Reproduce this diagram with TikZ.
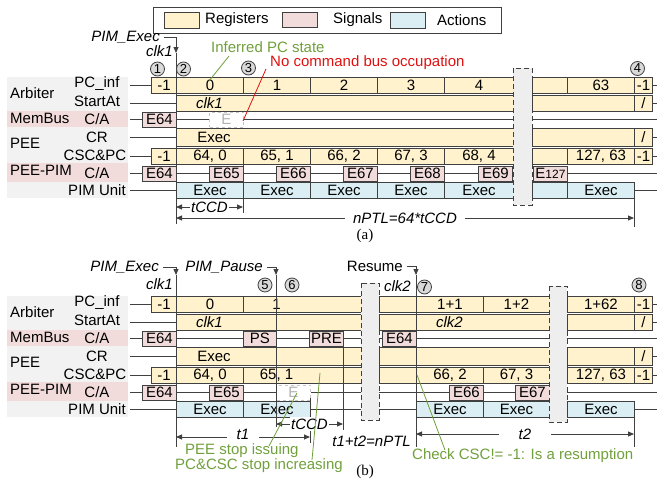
\documentclass[tikz,border=0pt]{standalone}
\usepackage{fontspec}
\setmainfont{Liberation Sans}
\newfontfamily\capserif{Liberation Serif}
\usetikzlibrary{arrows.meta}

\definecolor{regfill}{HTML}{FFF2CC}
\definecolor{sigfill}{HTML}{F2DCDB}
\definecolor{actfill}{HTML}{DAEEF3}
\definecolor{lblgray}{HTML}{F2F2F2}
\definecolor{lblpink}{HTML}{F2DCDB}
\definecolor{edge}{HTML}{404040}
\definecolor{notegreen}{HTML}{70A03C}
\definecolor{notered}{HTML}{E01010}
\definecolor{brkgray}{HTML}{EEEEEE}

% one timing cell: style, name, x from, x to, y centre, text
\newcommand\tcell[6]{\node[#1, minimum width={#4-#3}] (#2) at (#3,#5) {#6};}

\tikzset{
  txt/.style={font=\fontsize{15}{17}\selectfont, inner sep=0pt},
  reg/.style={txt, draw=edge, line width=0.9pt, fill=regfill, minimum height=16, anchor=west},
  sig/.style={txt, draw=edge, line width=0.9pt, fill=sigfill, minimum height=15, anchor=west},
  act/.style={txt, draw=edge, line width=0.9pt, fill=actfill, minimum height=16, anchor=west},
  ghost/.style={txt, draw=gray!45, dashed, line width=1pt, fill=white, text=gray!60, minimum height=15, anchor=west},
  brk/.style={draw=edge, line width=0.9pt, dash pattern=on 5pt off 3pt, fill=brkgray},
  numc/.style={circle, draw=edge, line width=0.8pt, fill=gray!30, minimum size=14, inner sep=0pt, font=\fontsize{13}{14}\selectfont},
  rowline/.style={draw=edge, line width=0.9pt},
  grp/.style={txt, anchor=west},
  sub/.style={txt},
  note/.style={txt, text=notegreen},
  dim/.style={txt, fill=white, inner sep=1.5pt, font=\fontsize{15}{17}\selectfont\itshape},
}

\begin{document}
\begin{tikzpicture}[x=1pt,y=-1pt,>={Triangle[length=6pt,width=5pt]}]
\useasboundingbox (0,0) rectangle (657,485);

% legend
\node[draw=edge, line width=0.9pt, fill=white, minimum width=348, minimum height=26, anchor=north west] (legend) at (153,7) {};
\tcell{reg}{lgreg}{164}{199}{20}{}
\node[txt, anchor=west] (lgregt) at (205,20) {Registers};
\tcell{sig}{lgsig}{282}{317}{20}{}
\node[txt, anchor=west] (lgsigt) at (333,20) {Signals};
\tcell{act}{lgact}{390}{425}{20}{}
\node[txt, anchor=west] (lgactt) at (437,20) {Actions};

% ================= (a) =================
\fill[lblgray] (7,77) rectangle (128,111);
\fill[lblpink] (7,111) rectangle (128,127);
\fill[lblgray] (7,127) rectangle (128,163);
\fill[lblpink] (7,163) rectangle (128,182);
\fill[lblgray] (7,182) rectangle (128,198);
\node[grp] (aarb) at (10,93) {Arbiter};
\node[grp] (amem) at (10,118) {MemBus};
\node[grp] (apee) at (10,143) {PEE};
\node[grp] (app) at (10,170) {PEE-PIM};
\node[sub] (apcl) at (97,84) {PC\_inf};
\node[sub] (asal) at (97,101) {StartAt};
\node[sub] (ambl) at (97,119) {C/A};
\node[sub] (acrl) at (97,137) {CR};
\node[sub] (acsl) at (95,155) {CSC\&PC};
\node[sub] (appl) at (97,173) {C/A};
\node[sub] (apul) at (97,190) {PIM Unit};

\foreach \y in {85,103,119.5,137,156,173.5,190.5}
  \draw[rowline] (130,\y) -- (657,\y);

% PC_inf
\tcell{reg}{apc0}{151}{176}{85}{-1}
\tcell{reg}{apc1}{176}{243}{85}{0}
\tcell{reg}{apc2}{243}{310}{85}{1}
\tcell{reg}{apc3}{310}{377}{85}{2}
\tcell{reg}{apc4}{377}{444}{85}{3}
\tcell{reg}{apc5}{444}{513}{85}{4}
\tcell{reg}{apc6}{532}{567}{85}{}
\tcell{reg}{apc7}{567}{634}{85}{63}
\tcell{reg}{apc8}{634}{652}{85}{-1}
% StartAt
\tcell{reg}{asa1}{176}{513}{103}{}
\tcell{reg}{asa2}{532}{634}{103}{}
\tcell{reg}{asa3}{634}{652}{103}{/}
\node[txt] (asat) at (209.5,103) {\textit{clk1}};
% MemBus C/A
\tcell{sig}{amb0}{142}{176}{119.5}{E64}
\tcell{ghost}{amb1}{209}{243}{119.5}{E}
% CR
\tcell{reg,minimum height=18}{acr1}{176}{513}{137}{}
\tcell{reg,minimum height=18}{acr2}{532}{634}{137}{}
\tcell{reg,minimum height=18}{acr3}{634}{652}{137}{/}
\node[txt] (acrt) at (214,137) {Exec};
% CSC&PC
\tcell{reg}{acs0}{151}{176}{156}{-1}
\tcell{reg}{acs1}{176}{243}{156}{64, 0}
\tcell{reg}{acs2}{243}{310}{156}{65, 1}
\tcell{reg}{acs3}{310}{377}{156}{66, 2}
\tcell{reg}{acs4}{377}{444}{156}{67, 3}
\tcell{reg}{acs5}{444}{513}{156}{68, 4}
\tcell{reg}{acs6}{532}{567}{156}{}
\tcell{reg}{acs7}{567}{634}{156}{127, 63}
\tcell{reg}{acs8}{634}{652}{156}{-1}
% PEE-PIM C/A
\tcell{sig}{app0}{142}{176}{173.5}{E64}
\tcell{sig}{app1}{209}{243}{173.5}{E65}
\tcell{sig}{app2}{276}{310}{173.5}{E66}
\tcell{sig}{app3}{343}{377}{173.5}{E67}
\tcell{sig}{app4}{410}{444}{173.5}{E68}
\tcell{sig}{app5}{478}{512}{173.5}{E69}
\tcell{sig}{app6}{533}{567}{173.5}{E{\fontsize{12}{13}\selectfont 127}}
% PIM Unit
\tcell{act}{apu1}{176}{243}{190.5}{Exec}
\tcell{act}{apu2}{243}{310}{190.5}{Exec}
\tcell{act}{apu3}{310}{377}{190.5}{Exec}
\tcell{act}{apu4}{377}{444}{190.5}{Exec}
\tcell{act}{apu5}{444}{513}{190.5}{Exec}
\tcell{act}{apu6}{532}{567}{190.5}{}
\tcell{act}{apu7}{567}{634}{190.5}{Exec}

\draw[brk] (513,68) rectangle (532,205);

% clock and markers
\node[txt, anchor=east] (aexec) at (160,37) {\textit{PIM\_Exec}};
\node[txt, anchor=east] (aclkt) at (173,51) {\textit{clk1}};
\coordinate (aclk) at (176,53);
\coordinate (aclkb) at (176,224);
\draw[rowline, ->, shorten <=4pt] (aexec.east) -| (aclk);
\draw[rowline] (aclk) -- (aclkb);
\coordinate (atca) at (243,164);
\coordinate (atcb) at (243,213);
\draw[rowline] (atca) -- (atcb);
\coordinate (aenda) at (634,198);
\coordinate (aendb) at (634,227);
\draw[rowline] (aenda) -- (aendb);
\coordinate (atc0) at (176,207);
\coordinate (atc1) at (243,207);
\draw[rowline, <->] (atc0) -- node[dim] (atcl) {tCCD} (atc1);
\coordinate (anp0) at (176,218);
\coordinate (anp1) at (634,218);
\draw[rowline, <->] (anp0) -- node[dim, inner xsep=8pt] (anpl) {nPTL=64*tCCD} (anp1);

\node[numc] (n1) at (157.5,69) {1};
\node[numc] (n2) at (183.5,69) {2};
\node[numc] (n3) at (248.5,68) {3};
\node[numc] (n4) at (637.5,68.5) {4};

\node[note, anchor=west] (ainf) at (211,47) {Inferred PC state};
\coordinate (ainf0) at (229,56);
\coordinate (ainf1) at (209,81);
\draw[notegreen, line width=0.8pt] (ainf0) -- (ainf1);
\node[txt, text=notered, anchor=west] (anob) at (270,63) {No command bus occupation};
\coordinate (anob0) at (266,69);
\coordinate (anob1) at (243,121);
\draw[notered, line width=0.8pt] (anob0) -- (anob1);

\node[txt, font=\capserif\fontsize{15}{17}\selectfont] (capa) at (365,236) {(a)};

% ================= (b) =================
\fill[lblgray] (7,296) rectangle (128,330);
\fill[lblpink] (7,330) rectangle (128,346);
\fill[lblgray] (7,346) rectangle (128,382);
\fill[lblpink] (7,382) rectangle (128,401);
\fill[lblgray] (7,401) rectangle (128,417);
\node[grp] (barb) at (10,312) {Arbiter};
\node[grp] (bmem) at (10,337) {MemBus};
\node[grp] (bpee) at (10,362) {PEE};
\node[grp] (bpp) at (10,389) {PEE-PIM};
\node[sub] (bpcl) at (97,303) {PC\_inf};
\node[sub] (bsal) at (97,320) {StartAt};
\node[sub] (bmbl) at (97,338) {C/A};
\node[sub] (bcrl) at (97,356) {CR};
\node[sub] (bcsl) at (95,374) {CSC\&PC};
\node[sub] (bppl) at (97,392) {C/A};
\node[sub] (bpul) at (97,409) {PIM Unit};

\foreach \y in {304,322,338.5,356,375,392.5,409.5}
  \draw[rowline] (130,\y) -- (657,\y);

% PC_inf
\tcell{reg}{bpc0}{151}{176}{304}{-1}
\tcell{reg}{bpc1}{176}{243}{304}{0}
\tcell{reg}{bpc2}{243}{361}{304}{}
\node[txt] (bpc2t) at (276.5,304) {1};
\tcell{reg}{bpc3}{379}{416}{304}{}
\tcell{reg}{bpc4}{416}{483}{304}{1+1}
\tcell{reg}{bpc5}{483}{549}{304}{1+2}
\tcell{reg}{bpc6}{567}{634}{304}{1+62}
\tcell{reg}{bpc7}{634}{652}{304}{-1}
% StartAt
\tcell{reg}{bsa1}{176}{361}{322}{}
\tcell{reg}{bsa2}{379}{549}{322}{}
\tcell{reg}{bsa3}{567}{634}{322}{}
\tcell{reg}{bsa4}{634}{652}{322}{/}
\node[txt] (bsa1t) at (209.5,322) {\textit{clk1}};
\node[txt] (bsa2t) at (449.5,322) {\textit{clk2}};
% MemBus C/A
\tcell{sig}{bmb0}{142}{176}{338.5}{E64}
\tcell{sig}{bmb1}{243}{276}{338.5}{PS}
\tcell{sig}{bmb2}{309}{343}{338.5}{PRE}
\tcell{sig}{bmb3}{382}{416}{338.5}{E64}
% CR
\tcell{reg,minimum height=18}{bcr1}{176}{361}{356}{}
\tcell{reg,minimum height=18}{bcr2}{379}{549}{356}{}
\tcell{reg,minimum height=18}{bcr3}{567}{634}{356}{}
\tcell{reg,minimum height=18}{bcr4}{634}{652}{356}{/}
\node[txt] (bcrt) at (214,356) {Exec};
% CSC&PC
\tcell{reg}{bcs0}{151}{176}{375}{-1}
\tcell{reg}{bcs1}{176}{243}{375}{64, 0}
\tcell{reg}{bcs2}{243}{361}{375}{}
\node[txt] (bcs2t) at (276.5,375) {65, 1};
\tcell{reg}{bcs3}{379}{416}{375}{}
\tcell{reg}{bcs4}{416}{483}{375}{66, 2}
\tcell{reg}{bcs5}{483}{549}{375}{67, 3}
\tcell{reg}{bcs6}{567}{634}{375}{127, 63}
\tcell{reg}{bcs7}{634}{652}{375}{-1}
% PEE-PIM C/A
\tcell{sig}{bpp0}{142}{176}{392.5}{E64}
\tcell{sig}{bpp1}{209}{243}{392.5}{E65}
\tcell{ghost}{bpp2}{276}{310}{392.5}{E}
\tcell{sig}{bpp3}{449}{483}{392.5}{E66}
\tcell{sig}{bpp4}{515}{549}{392.5}{E67}
% PIM Unit
\tcell{act}{bpu1}{176}{243}{409.5}{Exec}
\tcell{act}{bpu2}{243}{310}{409.5}{Exec}
\tcell{act}{bpu3}{416}{483}{409.5}{Exec}
\tcell{act}{bpu4}{483}{549}{409.5}{Exec}
\tcell{act}{bpu5}{567}{634}{409.5}{Exec}

\draw[brk] (361,283) rectangle (379,420);
\draw[brk] (549,286) rectangle (567,422);

% commands and clocks
\node[txt, anchor=east] (bexec) at (159,267) {\textit{PIM\_Exec}};
\node[txt, anchor=east] (bpause) at (263,267) {\textit{PIM\_Pause}};
\node[txt, anchor=east] (bres) at (403,266) {Resume};
\node[txt, anchor=east] (bclk1t) at (173,284) {\textit{clk1}};
\node[txt, anchor=east] (bclk2t) at (411,286) {\textit{clk2}};
\coordinate (bclk1) at (176,275);
\coordinate (bclk1b) at (176,447);
\coordinate (bps) at (276,275);
\coordinate (bpsb) at (276,427);
\coordinate (bclk2) at (416,275);
\coordinate (bclk2b) at (416,447);
\draw[rowline, ->, shorten <=4pt] (bexec.east) -| (bclk1);
\draw[rowline, ->, shorten <=4pt] (bpause.east) -| (bps);
\draw[rowline, ->, shorten <=4pt] (bres.east) -| (bclk2);
\draw[rowline] (bclk1) -- (bclk1b);
\draw[rowline] (bps) -- (bpsb);
\draw[rowline] (bclk2) -- (bclk2b);
\coordinate (bt1a) at (310,398);
\coordinate (bt1b) at (310,443);
\draw[rowline] (bt1a) -- (bt1b);
\coordinate (bprea) at (343,346);
\coordinate (bpreb) at (343,430);
\draw[rowline] (bprea) -- (bpreb);
\coordinate (benda) at (634,418);
\coordinate (bendb) at (634,447);
\draw[rowline] (benda) -- (bendb);

\coordinate (bd10) at (176,437);
\coordinate (bd11) at (310,437);
\draw[rowline, <->] (bd10) -- node[dim, inner xsep=10pt, inner ysep=0pt, yshift=2.5pt] (bd1l) {t1} (bd11);
\coordinate (btc0) at (276,424);
\coordinate (btc1) at (343,424);
\draw[rowline, <->] (btc0) -- node[dim] (btcl) {tCCD} (btc1);
\coordinate (bd20) at (416,434);
\coordinate (bd21) at (634,434);
\draw[rowline, <->] (bd20) -- node[dim, inner xsep=20pt] (bd2l) {t2} (bd21);
\node[txt, anchor=east] (bsum) at (411,441) {\textit{t1+t2=nPTL}};

\node[numc] (n5) at (265,285) {5};
\node[numc] (n6) at (292,285) {6};
\node[numc] (n7) at (424.5,287) {7};
\node[numc] (n8) at (639,285) {8};

\node[note, anchor=west] (bstop) at (185,451) {PEE stop issuing};
\coordinate (bstop0) at (269,446);
\coordinate (bstop1) at (297,393);
\draw[notegreen, line width=0.8pt] (bstop0) -- (bstop1);
\node[note, anchor=west] (binc) at (175,466) {PC\&CSC stop increasing};
\coordinate (binc0) at (312,460);
\coordinate (binc1) at (320,373);
\draw[notegreen, line width=0.8pt] (binc0) -- (binc1);
\node[note, anchor=west] (bchk) at (412,456) {Check CSC!= -1: Is a resumption};
\coordinate (bchk0) at (445,450);
\coordinate (bchk1) at (417,375);
\draw[notegreen, line width=0.8pt] (bchk0) -- (bchk1);

\node[txt, font=\capserif\fontsize{15}{17}\selectfont] (capb) at (365,472) {(b)};
\end{tikzpicture}
\end{document}
